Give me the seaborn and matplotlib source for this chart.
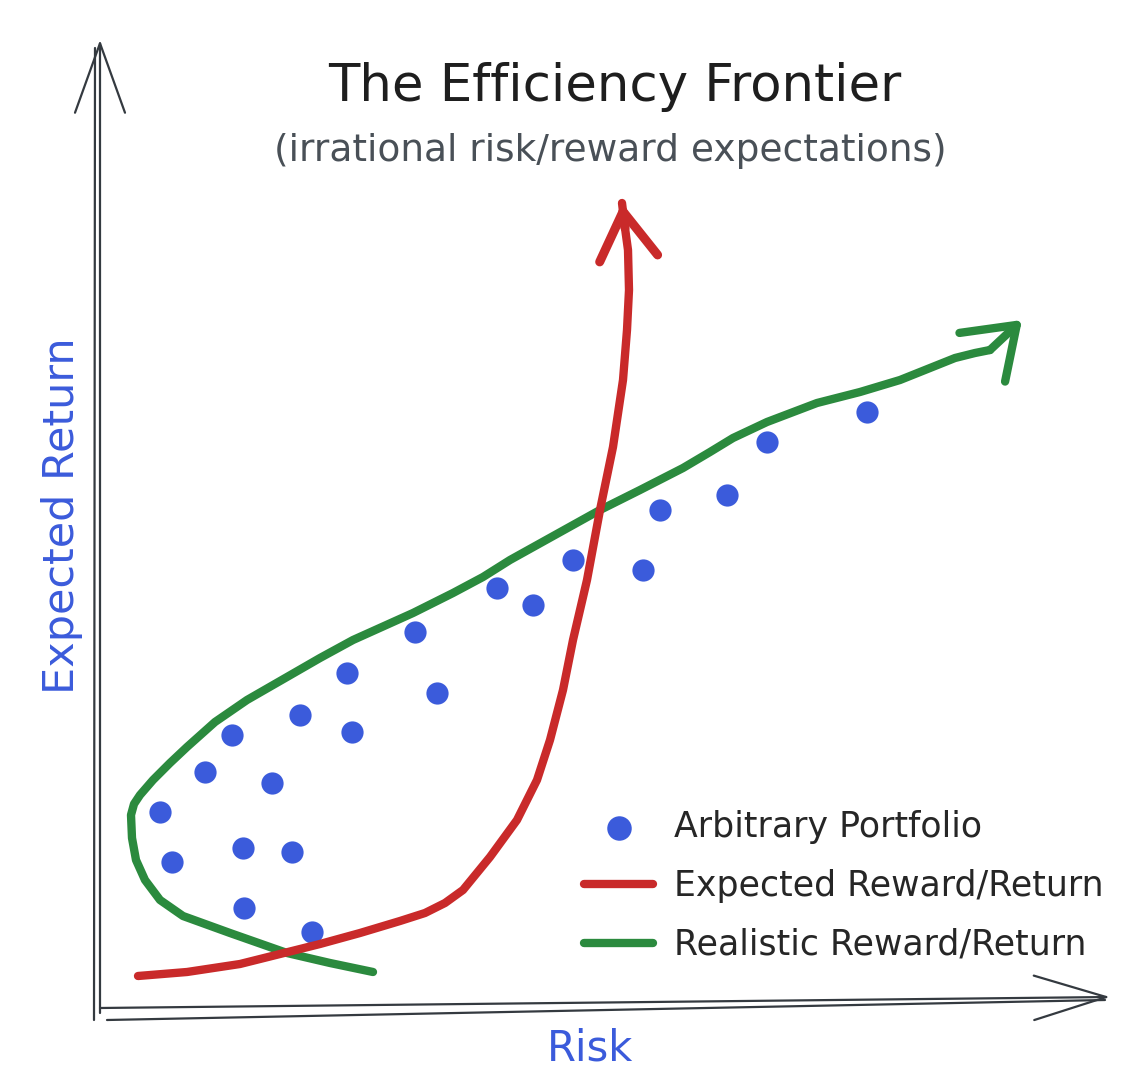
import numpy as np
import pandas as pd
import matplotlib
matplotlib.use("Agg")
import matplotlib.pyplot as plt
import seaborn as sns

# ---------------- data (Risk, Expected Return) ----------------
portfolio_risk = [0.60, 0.72, 1.05, 1.32, 1.43, 1.44, 1.72, 1.92, 2.00, 2.12,
                  2.47, 2.52, 3.15, 3.37, 3.97, 4.33, 4.73, 5.43, 5.60, 6.27,
                  6.67, 7.67]
portfolio_return = [2.06, 1.56, 2.46, 2.83, 1.70, 1.10, 2.35, 1.66, 3.03, 0.86,
                    3.45, 2.86, 3.86, 3.25, 4.30, 4.13, 4.58, 4.48, 5.08, 5.23,
                    5.76, 6.06]

expected_risk = [0.38, 0.87, 1.40, 1.80, 2.20, 2.60, 3.00, 3.25, 3.45, 3.63, 3.90,
                 4.17, 4.37, 4.50, 4.63, 4.73, 4.87, 5.00, 5.13, 5.23, 5.27,
                 5.29, 5.28, 5.25, 5.22]
expected_return = [0.42, 0.46, 0.54, 0.64, 0.74, 0.85, 0.97, 1.05, 1.15, 1.28, 1.61,
                   1.98, 2.38, 2.78, 3.28, 3.78, 4.38, 5.08, 5.71, 6.38, 6.88,
                   7.28, 7.68, 7.90, 8.15]

realistic_risk = [2.73, 2.30, 1.87, 1.30, 0.83, 0.60, 0.45, 0.36, 0.32, 0.31, 0.34,
                  0.40, 0.53, 0.70, 0.87, 1.15, 1.47, 1.87, 2.20, 2.53, 3.13, 3.53,
                  3.83, 4.10, 4.55, 5.00, 5.40, 5.83, 6.10, 6.33, 6.67, 7.17, 7.60,
                  8.00, 8.30, 8.55, 8.75, 8.90, 9.22]
realistic_return = [0.46, 0.55, 0.65, 0.85, 1.02, 1.18, 1.38, 1.58, 1.80, 2.03, 2.14,
                    2.23, 2.38, 2.55, 2.71, 2.96, 3.18, 3.41, 3.60, 3.78, 4.05, 4.25,
                    4.41, 4.58, 4.83, 5.08, 5.28, 5.50, 5.66, 5.80, 5.96, 6.15, 6.26,
                    6.38, 6.50, 6.60, 6.65, 6.68, 6.98]

labels = ["Arbitrary Portfolio", "Expected Reward/Return", "Realistic Reward/Return"]
title = "The Efficiency Frontier"
subtitle = "(irrational risk/reward expectations)"
x_label = "Risk"
y_label = "Expected Return"

# ---------------- style ----------------
BLUE = "#3b5bdb"
RED = "#c92a2a"
GREEN = "#2b8a3e"
INK = "#343a40"
GREY = "#495057"

sns.set_theme(style="white")
plt.rcParams["font.family"] = ["DejaVu Sans"]

fig = plt.figure(figsize=(11.36, 10.92), dpi=100)
ax = fig.add_axes([0, 0, 1, 1])
ax.set_xlim(-1.0, 10.36)
ax.set_ylim(-0.74, 10.18)
ax.axis("off")

# axes drawn as hand-sketched arrows
ax_kw = dict(arrowstyle="->, head_length=50, head_width=18", color=INK, lw=1.6,
             shrinkA=0, shrinkB=0, mutation_scale=1)
ax.annotate("", xy=(0.0, 9.78), xytext=(0.0, 0.05), arrowprops=ax_kw)
ax.plot([-0.06, -0.05], [-0.02, 9.70], color=INK, lw=1.6)
ax.annotate("", xy=(10.10, 0.21), xytext=(0.0, 0.10),
            arrowprops=dict(ax_kw, arrowstyle="->, head_length=52, head_width=16"))
ax.plot([0.07, 10.05], [-0.02, 0.18], color=INK, lw=1.6)

# data
pts = pd.DataFrame({"risk": portfolio_risk, "ret": portfolio_return})
sns.scatterplot(data=pts, x="risk", y="ret", ax=ax, color=BLUE, marker="o",
                s=210, edgecolor=BLUE, linewidth=1.5, label=labels[0], zorder=3)

exp = pd.DataFrame({"risk": expected_risk, "ret": expected_return})
sns.lineplot(data=exp, x="risk", y="ret", ax=ax, sort=False, estimator=None,
             color=RED, lw=3.8, label=labels[1], solid_capstyle="round",
             solid_joinstyle="round", zorder=4)

real = pd.DataFrame({"risk": realistic_risk, "ret": realistic_return})
sns.lineplot(data=real.iloc[:-1], x="risk", y="ret", ax=ax, sort=False, estimator=None,
             color=GREEN, lw=4.3, label=labels[2], solid_capstyle="round",
             solid_joinstyle="round", zorder=2)

# arrow heads at the end of each curve
ax.annotate("", xy=(expected_risk[-1], expected_return[-1]),
            xytext=(expected_risk[-2], expected_return[-2]),
            arrowprops=dict(arrowstyle="->, head_length=34, head_width=21", color=RED,
                            lw=6.5, shrinkA=0, shrinkB=0, mutation_scale=1,
                            capstyle="round", joinstyle="round"), zorder=4)
ax.annotate("", xy=(realistic_risk[-1], realistic_return[-1]),
            xytext=(realistic_risk[-2], realistic_return[-2]),
            arrowprops=dict(arrowstyle="->, head_length=34, head_width=24", color=GREEN,
                            lw=6, shrinkA=0, shrinkB=0, mutation_scale=1,
                            capstyle="round", joinstyle="round"), zorder=2)

# legend
handles, labs = ax.get_legend_handles_labels()
for h in handles[1:]:
    h.set_linewidth(6)
    h.set_solid_capstyle("round")
leg = ax.legend(handles, labs, loc="upper left", bbox_to_anchor=(584 / 1136, 1 - 810 / 1092),
                frameon=False, fontsize=25, handlelength=2.0, handletextpad=0.6,
                labelspacing=0.72, borderaxespad=0, borderpad=0)
leg.legend_handles[0].set_sizes([260])

# texts
fig.text(0.541, 0.920, title, ha="center", va="center", fontsize=37, color="#1e1e1e")
fig.text(0.537, 0.862, subtitle, ha="center", va="center", fontsize=27, color=GREY)
fig.text(0.055, 0.528, y_label, ha="center", va="center", rotation=90, fontsize=31, color=BLUE)
fig.text(0.519, 0.040, x_label, ha="center", va="center", fontsize=30, color=BLUE)

fig.savefig("out.png", dpi=100)
